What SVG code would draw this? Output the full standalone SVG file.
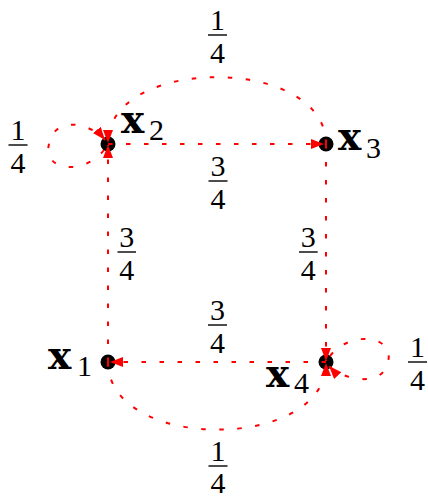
<svg xmlns="http://www.w3.org/2000/svg" width="428" height="500" viewBox="0 0 428 500">
<defs>
<style>
.dot{fill:#000}
.edge{fill:none;stroke:#ff0000;stroke-width:2;stroke-dasharray:4.5 13.5;marker-end:url(#arr)}
.num{font-family:"Liberation Serif",serif;font-size:30px;fill:#000;text-anchor:middle}
.bar{stroke:#000;stroke-width:1.4}
.vx{font-family:"DejaVu Serif",serif;font-weight:bold;font-size:39px;fill:#000}
.sub{font-family:"Liberation Serif",serif;font-size:30px;fill:#000}
</style>
<marker id="arr" markerUnits="userSpaceOnUse" markerWidth="15" markerHeight="12" refX="13" refY="5" orient="auto">
<path d="M0,0 L13,5 L0,10 Z" fill="#ff0000"/>
</marker>
</defs>
<rect width="428" height="500" fill="#fff"/>

<g id="x1">
<circle class="dot" cx="108" cy="362" r="7.5"/>
<text class="vx" x="48" y="369">x</text>
<text class="sub" x="77" y="376">1</text>
</g>
<g id="x2">
<circle class="dot" cx="108" cy="144" r="7.5"/>
<text class="vx" x="121" y="133">x</text>
<text class="sub" x="149" y="140">2</text>
</g>
<g id="x3">
<circle class="dot" cx="326" cy="144" r="7.5"/>
<text class="vx" x="338" y="150">x</text>
<text class="sub" x="366" y="158">3</text>
</g>
<g id="x4">
<circle class="dot" cx="326" cy="362" r="7.5"/>
<text class="vx" x="266" y="387">x</text>
<text class="sub" x="294" y="393">4</text>
</g>

<g id="connectors">
<path class="edge" d="M108,362 L108,145"/>
<path class="edge" d="M108,144 L324,144"/>
<path class="edge" d="M326,144 L326,361"/>
<path class="edge" d="M326,362 L110,362"/>
<path class="edge" d="M326,144 C326,55 108,55 108,143"/>
<path class="edge" d="M108,362 C108,452 326,452 326,363"/>
<path class="edge" d="M104,150 C84,176 42,171 49,144 C55,114 92,124 105,140"/>
<path class="edge" d="M330,356 C350,330 395,335 388,362 C382,390 340,378 329,366"/>
</g>

<g id="labels">
<g id="p32"><text class="num" x="217.5" y="30">1</text><line class="bar" x1="208" y1="35" x2="227" y2="35"/><text class="num" x="217.5" y="63">4</text></g>
<g id="p22"><text class="num" x="18" y="140">1</text><line class="bar" x1="8.5" y1="145" x2="27.5" y2="145"/><text class="num" x="18" y="173">4</text></g>
<g id="p23"><text class="num" x="218" y="176">3</text><line class="bar" x1="208.5" y1="181" x2="227.5" y2="181"/><text class="num" x="218" y="209">4</text></g>
<g id="p12"><text class="num" x="126.7" y="247">3</text><line class="bar" x1="117.5" y1="252" x2="136" y2="252"/><text class="num" x="126.7" y="280">4</text></g>
<g id="p34"><text class="num" x="308.3" y="247">3</text><line class="bar" x1="299" y1="252" x2="317.7" y2="252"/><text class="num" x="308.3" y="280">4</text></g>
<g id="p41"><text class="num" x="217.5" y="320">3</text><line class="bar" x1="208" y1="325" x2="227" y2="325"/><text class="num" x="217.5" y="353">4</text></g>
<g id="p44"><text class="num" x="417.5" y="357">1</text><line class="bar" x1="408" y1="362" x2="427" y2="362"/><text class="num" x="417.5" y="390">4</text></g>
<g id="p14"><text class="num" x="218" y="461">1</text><line class="bar" x1="208.5" y1="466" x2="227.5" y2="466"/><text class="num" x="218" y="493">4</text></g>
</g>
</svg>
